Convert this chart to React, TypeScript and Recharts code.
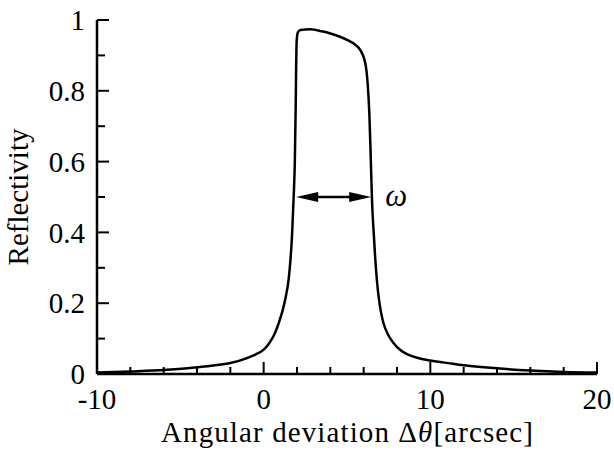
import React from "react";
import { LineChart, Line, XAxis, YAxis, ReferenceLine, ReferenceDot, Label } from "recharts";

// Rocking curve: angle [arcsec] -> reflectivity
const angle = [
  -10, -8, -6, -4, -3, -2, -1, -0.5, 0, 0.3, 0.6, 0.8, 1.0, 1.15, 1.3, 1.5, 1.6, 1.7, 1.8, 1.87,
  1.92, 1.95, 1.98, 2.05, 2.2, 2.8, 3.5, 4.0, 4.5, 5.0, 5.5, 5.8, 6.1, 6.24, 6.34, 6.42, 6.5, 6.6,
  6.7, 6.8, 6.9, 7.05, 7.2, 7.5, 7.8, 8.2, 8.6, 9.2, 10, 11.2, 12, 14, 16, 18, 20,
];
const reflectivity = [
  0.004, 0.007, 0.011, 0.019, 0.024, 0.031, 0.045, 0.055, 0.069, 0.085, 0.108, 0.13, 0.158, 0.182,
  0.212, 0.268, 0.318, 0.39, 0.5, 0.6, 0.75, 0.87, 0.94, 0.965, 0.972, 0.974, 0.968, 0.962, 0.954,
  0.944, 0.93, 0.915, 0.878, 0.82, 0.737, 0.62, 0.49, 0.4, 0.322, 0.262, 0.217, 0.172, 0.142, 0.108,
  0.087, 0.068, 0.056, 0.046, 0.038, 0.03, 0.025, 0.016, 0.01, 0.006, 0.004,
];

const xTicks = [-10, -8, -6, -4, -2, 0, 2, 4, 6, 8, 10, 12, 14, 16, 18, 20];
const xLabelled = [-10, 0, 10, 20];
const yTicks = [0, 0.1, 0.2, 0.3, 0.4, 0.5, 0.6, 0.7, 0.8, 0.9, 1];
const yLabelled = [0, 0.2, 0.4, 0.6, 0.8, 1];

// FWHM arrow and its symbol
const arrowFrom = 1.95;
const arrowTo = 6.45;
const arrowLevel = 0.5;
const omegaX = 7.95;

const data = angle.map((a, i) => ({ a, r: reflectivity[i] }));

const FONT = "'Liberation Serif', 'Times New Roman', Times, serif";
const FS = 29;
const txt = { fontFamily: FONT, fontSize: FS, fill: "#000" };

function XTick({ x, y, payload }: any) {
  const v = payload.value;
  const major = xLabelled.includes(v);
  return (
    <g>
      <line x1={x} y1={y} x2={x} y2={y - (major ? 12 : 7)} stroke="#000" strokeWidth={2} />
      {major ? (
        <text x={x} y={y + 35} textAnchor="middle" style={txt}>
          {v}
        </text>
      ) : null}
    </g>
  );
}

function YTick({ x, y, payload }: any) {
  const v = payload.value;
  const major = yLabelled.includes(v);
  return (
    <g>
      <line x1={x} y1={y} x2={x + (major ? 12 : 8)} y2={y} stroke="#000" strokeWidth={2} />
      {major ? (
        <text x={x - 12} y={y} dy="0.35em" textAnchor="end" style={txt}>
          {v}
        </text>
      ) : null}
    </g>
  );
}

function WidthArrow(p: any) {
  const { x1, y1, x2 } = p;
  const head = 22;
  const half = 5;
  return (
    <g>
      <line x1={x1 + head - 2} y1={y1} x2={x2 - head + 2} y2={y1} stroke="#000" strokeWidth={2.5} />
      <polygon points={`${x1},${y1} ${x1 + head},${y1 - half} ${x1 + head},${y1 + half}`} fill="#000" />
      <polygon points={`${x2},${y1} ${x2 - head},${y1 - half} ${x2 - head},${y1 + half}`} fill="#000" />
    </g>
  );
}

function Omega(p: any) {
  return (
    <text x={p.cx} y={p.cy} dy="0.3em" textAnchor="middle" style={{ ...txt, fontSize: 31, fontStyle: "italic" }}>
      ω
    </text>
  );
}

export default function App() {
  return (
    <div style={{ position: "absolute", left: 0, top: 0, background: "#fff" }}>
      <LineChart width={614} height={450} data={data} margin={{ top: 20, right: 17, bottom: 0, left: 0 }}>
        <XAxis
          type="number"
          dataKey="a"
          domain={[-10, 20]}
          ticks={xTicks}
          interval={0}
          height={76}
          tickSize={0}
          tickMargin={0}
          tick={<XTick />}
          axisLine={{ stroke: "#000", strokeWidth: 2.5 }}
          allowDataOverflow
        >
          <Label
            content={({ viewBox }: any) => (
              <text
                x={viewBox.x + viewBox.width / 2}
                y={viewBox.y + 68}
                textAnchor="middle"
                textLength={372}
                lengthAdjust="spacing"
                style={txt}
              >
                <tspan>Angular deviation  Δ</tspan>
                <tspan fontStyle="italic">θ</tspan>
                <tspan>[arcsec]</tspan>
              </text>
            )}
          />
        </XAxis>
        <YAxis
          type="number"
          domain={[0, 1]}
          ticks={yTicks}
          interval={0}
          width={97}
          tickSize={0}
          tickMargin={0}
          tick={<YTick />}
          axisLine={{ stroke: "#000", strokeWidth: 2.5 }}
          allowDataOverflow
        >
          <Label
            content={({ viewBox }: any) => (
              <text
                x={18}
                y={viewBox.y + viewBox.height / 2}
                textAnchor="middle"
                dy="0.35em"
                transform={`rotate(-90, 18, ${viewBox.y + viewBox.height / 2})`}
                style={txt}
              >
                Reflectivity
              </text>
            )}
          />
        </YAxis>
        <ReferenceLine
          segment={[
            { x: arrowFrom, y: arrowLevel },
            { x: arrowTo, y: arrowLevel },
          ]}
          shape={WidthArrow}
        />
        <ReferenceDot x={omegaX} y={arrowLevel} r={0} shape={Omega} />
        <Line
          type="monotone"
          dataKey="r"
          stroke="#000"
          strokeWidth={2.5}
          dot={false}
          activeDot={false}
          isAnimationActive={false}
        />
      </LineChart>
    </div>
  );
}
